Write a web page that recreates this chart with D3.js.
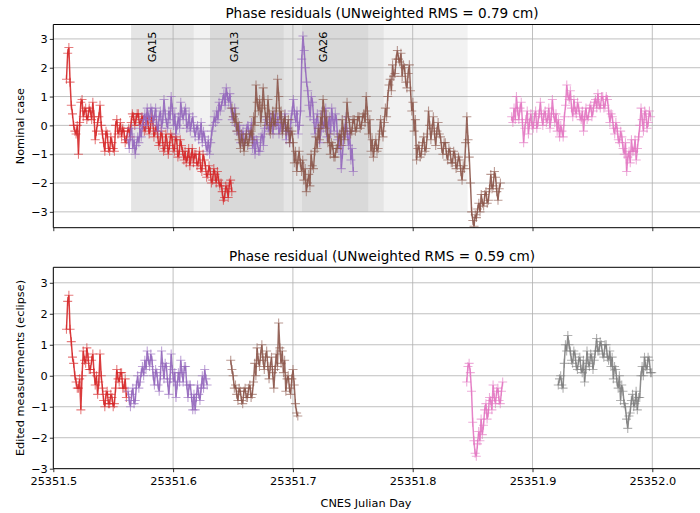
<!DOCTYPE html>
<html>
<head>
<meta charset="utf-8">
<script src="https://cdn.jsdelivr.net/npm/d3@7"></script>
<style>
  body { margin: 0; background: #fff; }
  text { font-family: "DejaVu Sans", sans-serif; fill: #000; }
</style>
</head>
<body>
<svg id="chart" width="700" height="513"></svg>
<script>
// sampling step of every series (days)
const step = 0.001;

const xTicks = [25351.5, 25351.6, 25351.7, 25351.8, 25351.9, 25352.0];
const yTicks = [-3, -2, -1, 0, 1, 2, 3];

// shaded visibility windows in the top panel (days)
const bandStart = [25351.5649, 25351.5649, 25351.6308, 25351.6308, 25351.7076];
const bandEnd   = [25351.8459, 25351.6172, 25351.7758, 25351.6923, 25351.7629];
const bandNames = ["GA15", "GA13", "GA26"];
const bandLabelDays = [25351.5861, 25351.6544, 25351.7282];

// top panel: nominal case
const topRedStart = 25351.5110;
const topRed = [1.6, 2.5, 2.7, 1.5, 0.7, 0.4, 0.0, -0.2, -0.3, 0.0, -1.0, 0.1, 0.8, 0.9, 0.3, 0.5, 0.6, 0.2, 0.3, 0.6,
  0.5, 0.2, 0.8, 0.3, -0.5, -0.2, 0.1, 0.3, 0.7, 0.0, -0.3, -0.6, -0.9, -0.2, -0.3, -0.8, -0.9, -0.4, -0.6, -0.8,
  -0.9, 0.0, 0.2, -0.3, -0.2, 0.1, -0.4, -0.1, -0.2, -0.6, -0.5, -0.2, -0.1, -0.4, 0.1, 0.4, 0.3, 0.0, 0.2, 0.4,
  0.4, 0.0, 0.1, 0.3, 0.2, -0.2, -0.1, 0.3, 0.1, -0.3, -0.1, 0.3, 0.2, -0.4, -0.2, 0.0, -0.3, -0.7, -0.6, -0.2,
  -0.4, -0.9, -0.8, -0.3, -0.6, -1.0, -0.7, -0.3, -0.4, -0.8, -0.9, -0.4, -0.5, -1.1, -1.0, -0.5, -0.7, -0.9, -1.2, -0.9,
  -1.3, -1.1, -0.8, -1.4, -1.1, -0.8, -1.3, -1.0, -1.0, -1.4, -1.3, -0.9, -1.5, -1.6, -1.0, -1.2, -1.4, -1.8, -1.7, -1.4,
  -1.6, -2.0, -1.9, -1.5, -1.7, -2.0, -1.6, -1.9, -2.1, -2.0, -2.3, -2.6, -2.5, -2.1, -2.2, -2.5, -2.0, -1.9, -2.3];

const topPurpleStart = 25351.5624;
const topPurple = [-0.5, -0.8, -0.3, -0.1, -0.8, -0.5, -1.0, -0.7, -0.4, -0.6, -0.1, -0.4, 0.0, 0.2, 0.4, 0.0, 0.6, 0.3, 0.2, 0.6,
  0.5, 0.1, 0.3, 0.6, 0.0, -0.2, 0.3, 0.5, -0.1, 0.2, 0.9, 0.4, 0.1, -0.1, 0.5, 0.2, 1.0, 0.6, 0.0, 0.4,
  -0.3, 0.0, 0.3, -0.1, 0.8, 0.4, 0.2, 0.5, 0.6, -0.1, 0.0, 0.4, -0.2, 0.1, 0.3, -0.1, -0.4, -0.1, 0.0, -0.5,
  -0.3, 0.1, -0.6, -0.2, -0.4, -0.7, -0.9, -0.5, -1.0, -0.6, -0.2, 0.0, 0.3, 0.1, 0.5, 0.2, 0.8, 0.5, 0.7, 0.9,
  1.1, 0.7, 1.3, 1.0, 0.8, 1.1, 0.6, 0.2, 0.3, 0.6, 0.0, -0.2, -0.3, 0.0, -0.6, -0.3, -0.2, -0.7, -0.5, -0.1,
  0.0, -0.3, -0.4, 0.1, -0.8, -0.4, -1.0, -0.5, -0.6, -0.9, -0.9, -0.4, -0.3, -0.7, -0.1, 0.3, 0.2, -0.1, -0.2, 0.3,
  0.1, -0.3, 0.4, 0.0, 0.0, 0.3, -0.3, -0.1, 0.3, -0.2, 0.0, 0.4, -0.5, -0.1, -0.2, -0.6, 0.2, 0.5, 0.9, 0.4,
  0.1, 0.5, -0.3, 0.0, 0.5, 2.3, 3.1, 2.6, 2.0, 1.5, 1.2, 0.7, 0.3, 1.0, 0.8, 0.2, -0.3, 0.1, 0.4, -0.1,
  -0.6, -0.2, 0.5, -0.1, 0.1, 0.6, -0.4, 0.0, 0.3, -0.3, 0.6, 0.2, -0.2, 0.4, 0.2, -0.5, -0.8, -0.3, -1.5, -1.0,
  -0.4, -0.1, 0.3, -0.3, -0.7, -0.2, -1.2, -0.8, -1.6];

const topBrownStart = 25351.6492;
const topBrown = [0.6, 0.3, 0.1, 0.4, -0.2, 0.1, -0.5, -0.8, -0.3, -0.6, -0.9, -0.5, -0.3, -0.7, -0.6, -0.3, -0.2, -0.5, 0.3, 0.0,
  1.4, 0.8, 0.5, 0.9, 0.1, 0.6, 1.3, 0.7, 0.3, 0.0, 0.9, 0.4, -0.3, 0.1, 0.5, 0.0, 0.1, 0.6, 1.6, 1.0,
  0.2, 0.5, -0.3, 0.1, 0.3, -0.2, -0.1, 0.2, -0.6, -0.3, -0.2, -0.6, -1.3, -0.9, -1.6, -1.2, -0.9, -1.3, -1.6, -1.2,
  -1.9, -1.5, -2.3, -2.0, -1.7, -2.1, -1.0, -1.4, -1.5, -0.9, -0.4, -0.8, -0.1, -0.5, 0.3, 0.0, 0.9, 0.5, -0.1, 0.3,
  -0.6, -0.3, -1.0, -0.6, -0.7, -1.1, -1.1, -0.8, -0.8, -0.4, -0.3, -0.7, 0.2, -0.2, -0.5, -0.1, 0.8, 0.3, 0.1, -0.3,
  -0.2, 0.2, 0.2, -0.2, -0.1, 0.3, 0.3, -0.1, 0.0, 0.3, 0.4, 0.1, 1.0, 0.5, -0.3, 0.2, -0.9, -0.5, -1.1, -0.7,
  -0.5, -0.9, -0.8, -0.3, 0.2, -0.2, -0.4, 0.1, 0.6, 0.3, 1.0, 1.4, 1.6, 1.2, 2.1, 1.7, 1.8, 2.3, 2.6, 2.3,
  2.2, 2.5, 1.7, 2.1, 2.0, 1.5, 1.3, 1.8, 2.1, 1.2, 0.5, 0.8, -0.2, 0.2, -1.2, -0.8, -0.7, -1.1, -1.0, -0.6,
  -0.4, -0.9, -0.8, -0.3, 0.5, 0.0, -0.5, -0.1, 0.3, -0.3, -0.7, -0.2, 0.1, -0.3, -0.4, -0.8, -1.0, -0.6, -0.6, -1.0,
  -1.2, -0.8, -0.9, -1.3, -1.3, -0.9, -1.0, -1.5, -1.4, -1.1, -1.2, -1.6, -1.9, -1.4, -1.5, -0.6, 0.3, -0.5, -1.1, -2.0,
  -3.0, -3.3, -3.5, -3.1, -3.2, -2.9, -2.7, -3.0, -2.4, -2.7, -2.8, -2.4, -2.3, -2.7, -2.6, -2.2, -1.7, -2.2, -2.1, -1.6,
  -1.8, -2.3, -2.6, -2.2, -2.0];

const topPinkStart = 25351.8826;
const topPink = [0.3, 0.1, 0.6, 0.2, 1.0, 0.5, 0.2, 0.6, 0.8, 0.1, -0.6, -0.1, 0.2, 0.5, -0.3, 0.1, 0.4, 0.0, -0.1, 0.3,
  0.5, -0.1, 0.1, 0.4, 0.8, 0.3, 0.0, 0.4, 0.5, 0.1, 0.2, 0.6, -0.1, 0.3, 0.9, 0.4, 0.1, 0.4, -0.2, 0.2,
  -0.4, 0.0, -0.2, -0.4, 0.3, 0.7, 1.4, 1.0, 0.9, 1.2, 0.6, 0.3, 0.9, 0.5, 0.4, 0.8, 0.6, 0.3, 0.2, 0.5,
  -0.2, 0.3, 0.6, 0.2, 0.3, 0.6, 0.7, 0.3, 0.5, 0.8, 0.9, 0.6, 1.1, 0.7, 0.6, 1.0, 1.0, 0.6, 0.7, 1.0,
  0.9, 0.5, 0.1, 0.4, 0.3, -0.1, -0.3, 0.1, -0.1, -0.5, -0.6, -0.2, -0.4, -0.8, -1.0, -0.6, -1.6, -1.1, -0.9, -1.3,
  -0.5, -0.9, -0.9, -0.5, -1.2, -0.8, -0.4, 0.0, 0.6, 0.2, -0.2, 0.5, 0.4, -0.1, 0.1, 0.5, 0.3];

// bottom panel: edited measurements (eclipse)
const botRedStart = 25351.5110;
const botRed = [1.5, 2.4, 2.6, 1.5, 1.1, 0.6, 0.4, 0.0, -0.2, -0.4, -0.4, -0.1, -1.1, 0.0, 0.8, 0.5, 0.4, 0.9, 0.6, 0.2,
  0.2, 0.5, 0.7, 0.1, -0.3, 0.0, -0.6, -0.2, 0.7, 0.0, -0.4, -0.8, -1.0, -0.6, -0.5, -0.9, -0.9, -0.6, -0.7, -1.0,
  -0.9, -0.4, 0.2, -0.1, -0.2, 0.1, 0.1, -0.4, -0.4, -0.1, -0.7];

const botPurpleStart = 25351.5624;
const botPurple = [-0.5, -0.8, -1.0, -0.6, -0.4, -0.9, -0.8, -0.3, 0.0, -0.4, -0.2, 0.1, 0.3, 0.0, 0.5, 0.2, 0.8, 0.5, 0.3, 0.7,
  0.5, 0.0, -0.3, 0.2, 0.1, -0.3, -0.5, 0.0, 0.8, 0.3, -0.1, 0.4, 0.3, -0.2, -0.6, -0.1, 0.7, 0.2, -0.2, 0.1,
  -0.7, -0.3, 0.1, -0.2, 0.5, 0.1, -0.2, 0.3, 0.3, -0.3, -0.7, -0.3, -0.3, -0.7, -1.1, -0.6, -1.1, -0.7, -0.3, -0.6,
  -0.8, -0.4, 0.0, -0.4, 0.2, -0.1, -0.3];

const botBrownStart = 25351.6481;
const botBrown = [0.5, 0.2, 0.0, -0.4, -0.3, -0.6, -0.8, -0.4, -0.5, -0.8, -0.9, -0.5, -0.4, -0.7, -0.7, -0.4, -0.3, -0.7, -0.6, -0.2,
  0.4, 0.0, 0.9, 0.5, 0.3, 0.7, 1.0, 0.5, 0.2, 0.6, 0.8, 0.3, -0.1, 0.3, 0.6, 0.1, -0.4, 0.2, 0.7, 0.3,
  1.7, 0.9, 0.4, 0.8, 0.1, 0.5, -0.5, -0.1, 0.0, -0.4, -0.6, -0.1, 0.2, -0.3, -0.9, -1.2, -1.3];

const botPinkStart = 25351.8451;
const botPink = [-0.2, 0.3, 0.4, 0.1, -0.5, -1.5, -2.1, -2.5, -2.6, -2.2, -1.8, -2.1, -1.4, -1.9, -1.6, -1.1, -0.9, -1.4, -1.2, -0.7,
  -0.8, -1.1, -0.3, -0.7, -0.9, -0.5, -0.4, -0.8, -0.9, -0.5, -0.2];

const botGrayStart = 25351.9215;
const botGray = [-0.3, -0.1, 0.0, -0.3, -0.4, 0.4, 1.0, 0.8, 1.3, 1.0, 0.8, 0.5, 0.4, 0.8, 0.7, 0.3, 0.2, 0.5, 0.6, 0.2,
  0.1, 0.5, -0.2, 0.2, 0.8, 0.4, 0.3, 0.7, 0.6, 0.2, 0.5, 0.8, 1.2, 0.8, 0.8, 1.1, 1.0, 0.7, 0.6, 1.0,
  1.0, 0.6, 0.5, 0.8, 0.3, 0.6, -0.1, 0.3, 0.2, -0.2, -0.4, 0.0, -0.8, -0.3, -0.5, -0.9, -1.0, -1.4, -1.7, -1.3,
  -1.2, -0.8, -0.6, -1.0, -0.9, -0.5, -1.1, -0.7, -0.7, 0.0, 0.3, 0.0, 0.6, 0.3, 0.2, 0.6, 0.5, 0.1, 0.1];

const svg = d3.select("#chart");
const left = 53.3, right = 712.2;

const x = d3.scaleLinear().domain([25351.5, 25352.05]).range([left, right]);

function drawPanel(cfg, idx) {
  const y = d3.scaleLinear().domain(cfg.yDomain).range([cfg.bottom, cfg.top]);
  const g = svg.append("g");

  g.append("clipPath").attr("id", "clip" + idx)
    .append("rect")
    .attr("x", left).attr("y", cfg.top)
    .attr("width", right - left).attr("height", cfg.bottom - cfg.top);

  const plot = g.append("g").attr("clip-path", `url(#clip${idx})`);

  if (cfg.bands) {
    bandStart.forEach((b, i) => {
      plot.append("rect")
        .attr("x", x(b)).attr("width", x(bandEnd[i]) - x(b))
        .attr("y", y(4)).attr("height", y(-3) - y(4))
        .attr("fill", "#000").attr("fill-opacity", 0.052);
    });
  }

  // grid
  plot.selectAll(".gx").data(xTicks).enter().append("line")
    .attr("x1", d => x(d)).attr("x2", d => x(d))
    .attr("y1", cfg.top).attr("y2", cfg.bottom)
    .attr("stroke", "#b0b0b0").attr("stroke-width", 0.8);
  plot.selectAll(".gy").data(yTicks).enter().append("line")
    .attr("x1", left).attr("x2", right)
    .attr("y1", d => y(d)).attr("y2", d => y(d))
    .attr("stroke", "#b0b0b0").attr("stroke-width", 0.8);

  if (cfg.bands) {
    bandNames.forEach((name, i) => {
      plot.append("text")
        .attr("transform", `translate(${x(bandLabelDays[i])},${cfg.top + 7}) rotate(-90)`)
        .attr("text-anchor", "end")
        .style("font-size", "11.3px")
        .text(name);
    });
  }

  const line = d3.line().x(d => x(d[0])).y(d => y(d[1]));
  cfg.series.forEach(s => {
    const pts = s.values.map((v, i) => [s.start + i * step, v]);
    plot.append("path").datum(pts)
      .attr("d", line)
      .attr("fill", "none")
      .attr("stroke", s.color)
      .attr("stroke-width", 1.5)
      .attr("stroke-opacity", 0.9);
    plot.append("g").selectAll("path").data(pts).enter().append("path")
      .attr("d", d => `M${x(d[0]) - 4.5},${y(d[1])}h9M${x(d[0])},${y(d[1]) - 4.5}v9`)
      .attr("stroke", s.color)
      .attr("stroke-width", 1.1)
      .attr("stroke-opacity", 0.6);
  });

  // axes
  const xAxis = d3.axisBottom(x).tickValues(xTicks).tickSize(3.5).tickPadding(5)
    .tickFormat(cfg.xLabels ? d3.format(".1f") : "");
  const ax = g.append("g").attr("transform", `translate(0,${cfg.bottom})`).call(xAxis);
  const yAxis = d3.axisLeft(y).tickValues(yTicks).tickSize(3.5).tickPadding(2)
    .tickFormat(d3.format("d"));
  const ay = g.append("g").attr("transform", `translate(${left},0)`).call(yAxis);
  [ax, ay].forEach(a => {
    a.select(".domain").remove();
    a.selectAll("line").attr("stroke", "#000").attr("stroke-width", 0.8);
    a.selectAll("text").style("font-size", "11.3px").attr("font-family", null);
  });

  // spines
  g.append("line").attr("x1", left).attr("x2", left).attr("y1", cfg.top).attr("y2", cfg.bottom)
    .attr("stroke", "#000").attr("stroke-width", 1);
  g.append("line").attr("x1", left).attr("x2", right).attr("y1", cfg.bottom).attr("y2", cfg.bottom)
    .attr("stroke", "#000").attr("stroke-width", 1);
  g.append("line").attr("x1", left).attr("x2", right).attr("y1", cfg.top).attr("y2", cfg.top)
    .attr("stroke", "#000").attr("stroke-width", 1);

  g.append("text")
    .attr("x", 382).attr("y", cfg.top - 6.5)
    .attr("text-anchor", "middle")
    .style("font-size", "13.6px")
    .text(cfg.title);

  g.append("text")
    .attr("transform", `translate(23.5,${(cfg.top + cfg.bottom) / 2}) rotate(-90)`)
    .attr("text-anchor", "middle")
    .style("font-size", "11.3px")
    .text(cfg.ylabel);
}

drawPanel({
  top: 24.5, bottom: 227.7, yDomain: [-3.55, 3.5],
  title: "Phase residuals (UNweighted RMS = 0.79 cm)",
  ylabel: "Nominal case", xLabels: false, bands: true,
  series: [
    { start: topRedStart, values: topRed, color: "#d62728" },
    { start: topPurpleStart, values: topPurple, color: "#9467bd" },
    { start: topBrownStart, values: topBrown, color: "#8c564b" },
    { start: topPinkStart, values: topPink, color: "#e377c2" }
  ]
}, 0);

drawPanel({
  top: 267.3, bottom: 468.7, yDomain: [-3, 3.5],
  title: "Phase residual (UNweighted RMS = 0.59 cm)",
  ylabel: "Edited measurements (eclipse)", xLabels: true, bands: false,
  series: [
    { start: botRedStart, values: botRed, color: "#d62728" },
    { start: botPurpleStart, values: botPurple, color: "#9467bd" },
    { start: botBrownStart, values: botBrown, color: "#8c564b" },
    { start: botPinkStart, values: botPink, color: "#e377c2" },
    { start: botGrayStart, values: botGray, color: "#7f7f7f" }
  ]
}, 1);

svg.append("text")
  .attr("x", 366).attr("y", 506.5)
  .attr("text-anchor", "middle")
  .style("font-size", "11.3px")
  .text("CNES Julian Day");
</script>
</body>
</html>
